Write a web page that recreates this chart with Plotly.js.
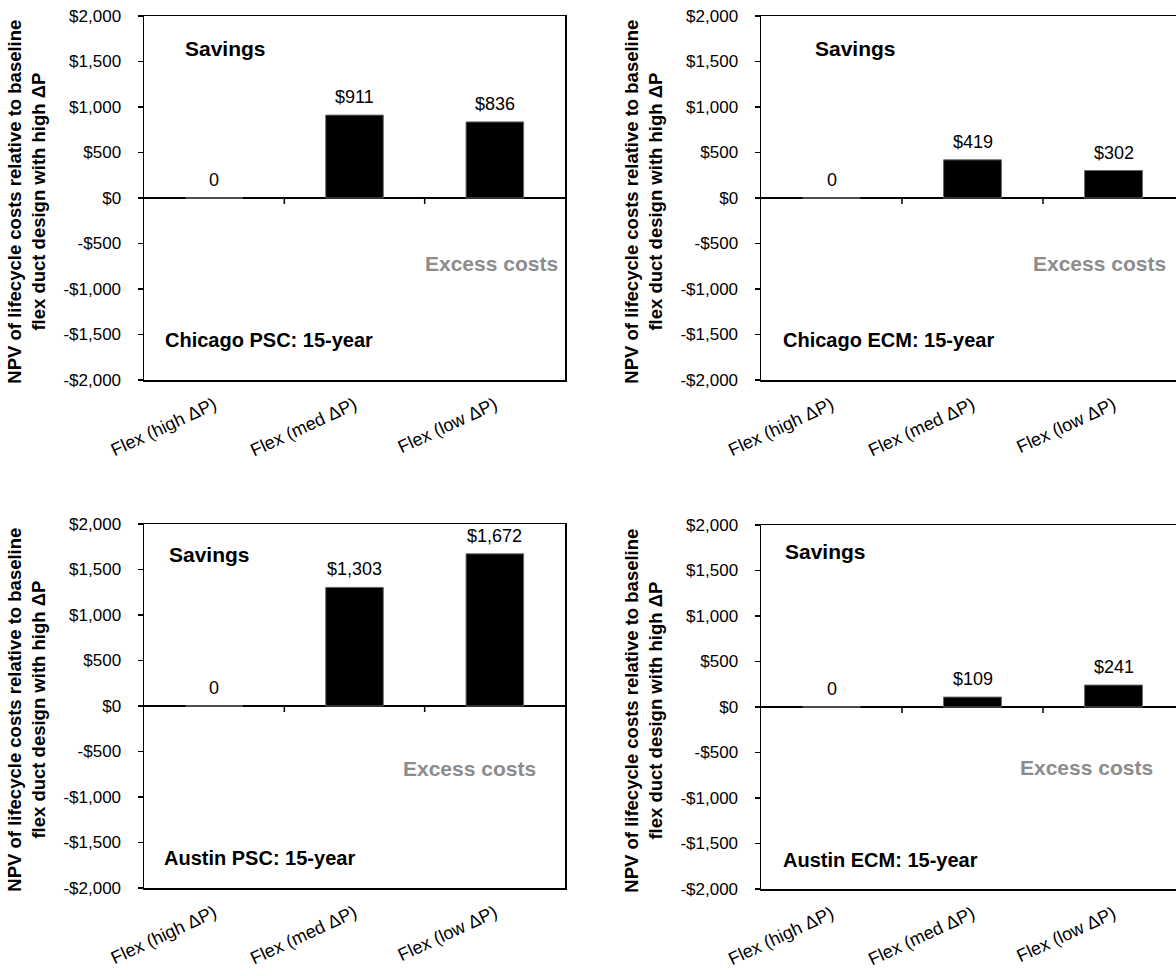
<!DOCTYPE html>
<html>
<head>
<meta charset="utf-8">
<script src="https://cdn.plot.ly/plotly-3.0.1.min.js"></script>
<style>
html, body { margin: 0; padding: 0; overflow: hidden; background: #fff; }
#chart { width: 1184px; height: 976px; }
</style>
</head>
<body>
<div id="chart"></div>
<script>
// ---- data ----
const categories = ['Flex (high ΔP)', 'Flex (med ΔP)', 'Flex (low ΔP)'];
const chicagoPSC = [0, 911, 836];
const chicagoECM = [0, 419, 302];
const austinPSC = [0, 1303, 1672];
const austinECM = [0, 109, 241];
const panelTitles = ['Chicago PSC: 15-year', 'Chicago ECM: 15-year', 'Austin PSC: 15-year', 'Austin ECM: 15-year'];
const yTickVals = [-2000, -1500, -1000, -500, 0, 500, 1000, 1500, 2000];
const yTickText = ['-$2,000', '-$1,500', '-$1,000', '-$500', '$0', '$500', '$1,000', '$1,500', '$2,000'];
const yTitle = 'NPV of lifecycle costs relative to baseline<br>flex duct design with high ΔP';

const FONT = 'Liberation Sans, Arial, sans-serif';
const W = 1184, H = 976;

const series = [chicagoPSC, chicagoECM, austinPSC, austinECM];
// panel pixel boxes: [left, right, top, bottom]
const boxes = [
  [144, 565, 16, 380],
  [761, 1184, 16, 380],
  [144, 565, 524, 888],
  [761, 1184, 525, 889]
];
// annotation placements (domain fractions)
const savingsPos = [[0.093, 0.912], [0.123, 0.912], [0.055, 0.915], [0.052, 0.926]];
const excessPos = [[0.988, 0.319], [0.962, 0.319], [0.936, 0.327], [0.931, 0.335]];
const titlePos = [[0.045, 0.110], [0.047, 0.110], [0.043, 0.082], [0.047, 0.080]];

function fmt(v) {
  return v === 0 ? '0' : '$' + v.toLocaleString('en-US');
}

const traces = [];
const layout = {
  width: W, height: H,
  margin: {l: 0, r: 0, t: 0, b: 0},
  paper_bgcolor: '#fff', plot_bgcolor: '#fff',
  showlegend: false,
  bargap: 0.59,
  font: {family: FONT, color: '#000'},
  annotations: [],
  shapes: []
};

series.forEach((vals, i) => {
  const n = i + 1;
  const xa = n === 1 ? 'x' : 'x' + n;
  const ya = n === 1 ? 'y' : 'y' + n;
  const xk = n === 1 ? 'xaxis' : 'xaxis' + n;
  const yk = n === 1 ? 'yaxis' : 'yaxis' + n;
  const b = boxes[i];
  traces.push({
    type: 'bar', x: categories, y: vals, xaxis: xa, yaxis: ya,
    marker: {color: '#000', line: {color: '#666', width: 1}},
    hoverinfo: 'skip'
  });
  layout[xk] = {
    domain: [b[0] / W, b[1] / W],
    anchor: ya,
    type: 'category',
    showline: true, linecolor: '#000', linewidth: 1.5, mirror: true,
    showgrid: false, zeroline: false,
    ticks: '', tickangle: -25,
    ticklabelstandoff: 6,
    tickfont: {family: FONT, size: 18, color: '#000'},
    fixedrange: true
  };
  layout[yk] = {
    domain: [1 - b[3] / H, 1 - b[2] / H],
    anchor: xa,
    range: [-2000, 2000],
    tickvals: yTickVals, ticktext: yTickText,
    showline: true, linecolor: '#000', linewidth: 1.5, mirror: true,
    showgrid: false,
    zeroline: true, zerolinecolor: '#000', zerolinewidth: 1.5,
    ticks: 'outside', ticklen: 5, tickwidth: 1.5, tickcolor: '#000',
    ticklabelstandoff: 13,
    tickfont: {family: FONT, size: 17, color: '#000'},
    fixedrange: true
  };
  // y-axis title (two lines, rotated)
  layout.annotations.push({
    xref: 'paper', yref: ya + ' domain',
    x: (b[0] - 117) / W, y: 0.49,
    xanchor: 'center', yanchor: 'middle', textangle: -90,
    showarrow: false, align: 'center',
    text: '<b>' + yTitle + '</b>',
    font: {family: FONT, size: 18.5, color: '#000'}
  });
  // value labels
  vals.forEach((v, j) => {
    layout.annotations.push({
      xref: xa, yref: ya, x: categories[j], y: v,
      text: fmt(v), showarrow: false, yanchor: 'bottom', yshift: 6,
      font: {family: FONT, size: 18, color: '#000'}
    });
  });
  // tick marks on the zero line between categories
  for (let j = 0; j < categories.length - 1; j++) {
    layout.shapes.push({
      type: 'line', xref: xa, yref: ya,
      x0: j + 0.5, x1: j + 0.5,
      ysizemode: 'pixel', yanchor: 0, y0: 0, y1: -6,
      line: {color: '#000', width: 1.5}
    });
  }
  const dx = xa + ' domain', dy = ya + ' domain';
  layout.annotations.push({
    xref: dx, yref: dy, x: savingsPos[i][0], y: savingsPos[i][1],
    xanchor: 'left', yanchor: 'middle', showarrow: false,
    text: '<b>Savings</b>', font: {family: FONT, size: 21, color: '#000'}
  });
  layout.annotations.push({
    xref: dx, yref: dy, x: excessPos[i][0], y: excessPos[i][1],
    xanchor: 'right', yanchor: 'middle', showarrow: false,
    text: '<b>Excess costs</b>', font: {family: FONT, size: 21, color: '#8c8c8c'}
  });
  layout.annotations.push({
    xref: dx, yref: dy, x: titlePos[i][0], y: titlePos[i][1],
    xanchor: 'left', yanchor: 'middle', showarrow: false,
    text: '<b>' + panelTitles[i] + '</b>', font: {family: FONT, size: 20, color: '#000'}
  });
});

Plotly.newPlot('chart', traces, layout, {displayModeBar: false, staticPlot: true});
</script>
</body>
</html>
